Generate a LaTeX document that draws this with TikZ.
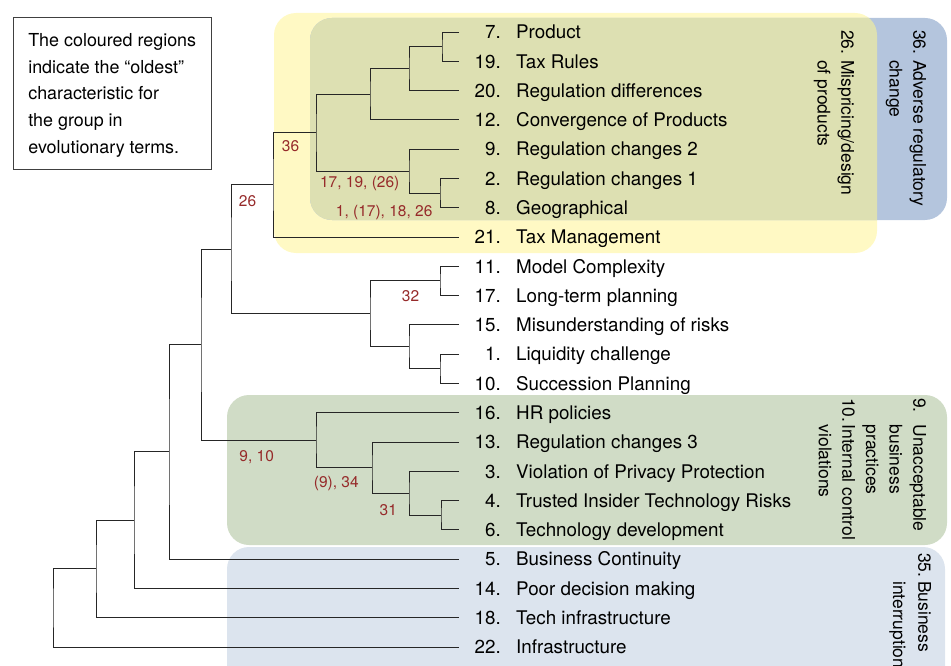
\documentclass[tikz,border=0pt]{standalone}
\usepackage{fontspec}
\setmainfont{TeX Gyre Heros}
\usetikzlibrary{calc}
\definecolor{yellowreg}{HTML}{FFF9C4}
\definecolor{bluereg}{HTML}{B4C5DD}
\definecolor{olivereg}{HTML}{DDE0B2}
\definecolor{greenreg}{HTML}{D0DCC6}
\definecolor{paleblue}{HTML}{DCE4EE}
\definecolor{charred}{HTML}{962A2A}

\begin{document}
\begin{tikzpicture}[x=1pt, y=-1pt,
        branch/.style={draw=black!85, line width=0.95pt},
        num/.style={anchor=base east, inner sep=0pt, font=\fontsize{18.8}{22}\selectfont},
        leaf/.style={anchor=base west, inner sep=0pt, font=\fontsize{18.8}{22}\selectfont},
        char/.style={anchor=base, inner sep=0pt, text=charred, font=\fontsize{15.5}{18}\selectfont},
        group/.style={anchor=north west, inner sep=0pt, rotate=-90, font=\fontsize{17.5}{23.6}\selectfont},
        region/.style={rounded corners=22pt}]
        \useasboundingbox (0,0) rectangle (951,666);
        \clip (0,0) rectangle (951,666);

        % coloured regions
        \fill[yellowreg, region] (274,13) rectangle (877,253);
        \fill[bluereg, region] (310,18) rectangle (947,220);
        \begin{scope}
            \clip[region] (274,13) rectangle (877,253);
            \fill[olivereg, region] (310,18) rectangle (947,220);
        \end{scope}
        \fill[greenreg, region] (227,395) rectangle (947,545);
        \fill[paleblue, region] (227,547) rectangle (945,700);

        % leaves
        \foreach \n/\t [count=\i from 0] in {7/Product, 19/Tax Rules, 20/Regulation differences, 12/Convergence of Products, 9/Regulation changes 2, 2/Regulation changes 1, 8/Geographical, 21/Tax Management, 11/Model Complexity, 17/Long-term planning, 15/Misunderstanding of risks, 1/Liquidity challenge, 10/Succession Planning, 16/HR policies, 13/Regulation changes 3, 3/Violation of Privacy Protection, 4/Trusted Insider Technology Risks, 6/Technology development, 5/Business Continuity, 14/Poor decision making, 18/Tech infrastructure, 22/Infrastructure}{
            \coordinate (f\i) at (459,{32+29.286*\i});
            \node[num] (n\i) at ($(f\i)+(42,6.8)$) {\n.};
            \node[leaf] (t\i) at ($(f\i)+(57,6.8)$) {\t};
        }

        % joints: name/x/upper/lower
        \foreach \j/\px/\ca/\cb in {a/442/f0/f1, b/409/a/f2, c/370/b/f3, d/440/f5/f6, e/409/f4/d, g/316/c/e, h/273/g/f7,
            j/440/f8/f9, k/440/f11/f12, l/409/f10/k, m/370/j/l, o/231/h/m,
            p/441/f16/f17, q/409/f15/p, r/372/f14/q, s/316/f13/r, t/201/o/s,
            u/169/t/f18, v/134/u/f19, w/96/v/f20, z/53/w/f21}{
            \path let \p1=($(\ca)!.5!(\cb)$) in coordinate (\j) at (\px pt,\y1);
            \draw[branch] (\ca) -| (\j) |- (\cb);
        }

        % characteristics
        \node[char] (c36) at (290.5,151.7) {36};
        \node[char] (c26) at (247.5,207) {26};
        \node[char] (c171926) at (359.7,188) {17, 19, (26)};
        \node[char] (c1171826) at (384.2,216) {1, (17), 18, 26};
        \node[char] (c32) at (410.5,301.7) {32};
        \node[char] (c910) at (256.7,461.5) {9, 10};
        \node[char] (c934) at (336.3,487.5) {(9), 34};
        \node[char] (c31) at (388.3,515) {31};

        % group names
        \node[group] (g36) at (930,30) {\begin{tabular}{@{}l@{}l@{}}\makebox[30pt][l]{36.} & Adverse regulatory\\ & change\end{tabular}};
        \node[group] (g26) at (858,30) {\begin{tabular}{@{}l@{}l@{}}\makebox[30pt][l]{26.} & Mispricing/design\\ & of products\end{tabular}};
        \node[group] (g910) at (930,398) {\begin{tabular}{@{}l@{}l@{}}\makebox[26.5pt][l]{9.} & Unacceptable\\ & business\\ & practices\\ \makebox[26.5pt][l]{10.} & Internal control\\ & violations\end{tabular}};
        \node[group] (g35) at (935,553) {\begin{tabular}{@{}l@{}l@{}}\makebox[28pt][l]{35.} & Business\\[1.5pt] & interruption\end{tabular}};

        % legend
        \node[draw=black!75, line width=0.9pt, anchor=north west, minimum width=197.5pt, minimum height=152pt, align=left, text depth=0pt, font=\fontsize{17.9}{26.7}\selectfont] (legend) at (13,17) {The coloured regions\\indicate the “oldest”\\characteristic for\\the group in\\evolutionary terms.};
\end{tikzpicture}
\end{document}
